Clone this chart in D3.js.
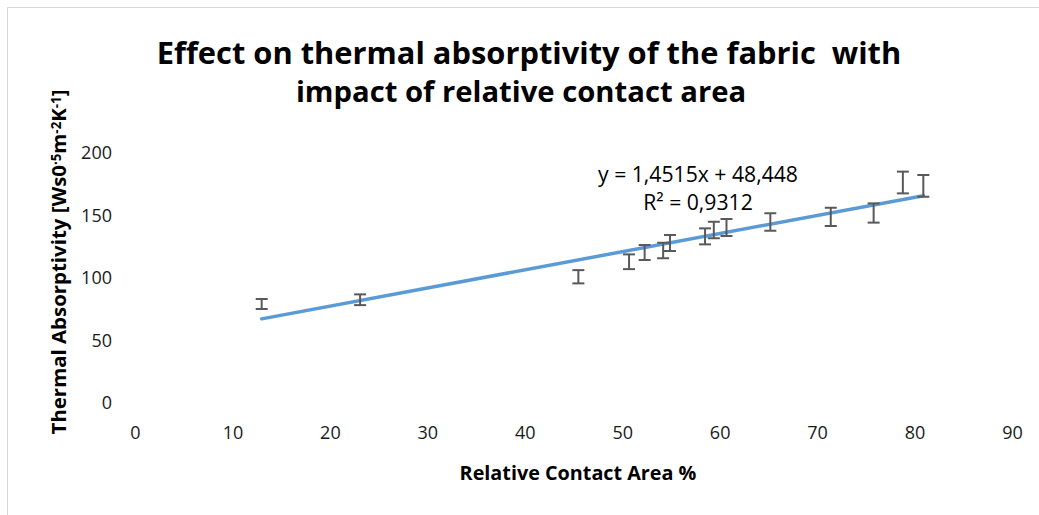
<!doctype html>
<html>
    <head>
        <script src="https://d3js.org/d3.v7.min.js"></script>
        <style>
            body,
            html {
                margin: 0;
                padding: 0;
                overflow: hidden;
                background: #fff;
            }
            text {
                font-family: "Open Sans", Lato, sans-serif;
            }
        </style>
    </head>
    <body>
        <script>
            // relative contact area (%)
            const contactArea = [13, 23.1, 45.5, 50.7, 52.3, 54.2, 54.9, 58.5, 59.4, 60.7, 65.2, 71.4, 75.8, 78.8, 80.9];
            // thermal absorptivity (mean)
            const absorptivity = [79.2, 82.6, 101, 113, 120.4, 122, 128, 133.3, 138.4, 140.4, 144.8, 148.9, 152, 176.4, 173.7];
            // +/- error
            const errors = [4, 4.3, 5.3, 5.9, 6, 6.2, 6.4, 6.4, 6.6, 6.8, 7, 7.3, 7.7, 8.7, 8.7];
            const xTicks = [0, 10, 20, 30, 40, 50, 60, 70, 80, 90];
            const yTicks = [0, 50, 100, 150, 200];
            const slope = 1.4515;
            const intercept = 48.448;
            const eqLabel = "y = 1,4515x + 48,448";
            const r2Label = "R² = 0,9312";

            const width = 1039;
            const height = 515;
            const svg = d3
                .create("svg")
                .attr("width", width)
                .attr("height", height)
                .attr("viewBox", [0, 0, width, height]);
            document.body.appendChild(svg.node());

            // shrink/grow font so the text spans roughly the wanted width
            function fit(sel, target) {
                const n = sel.node();
                const w = n.getComputedTextLength();
                const fs = parseFloat(sel.attr("font-size"));
                sel.attr("font-size", (fs * target) / w);
            }

            // chart frame
            svg.append("rect")
                .attr("x", 7.5)
                .attr("y", 7.5)
                .attr("width", width + 10)
                .attr("height", height + 10)
                .attr("fill", "#fff")
                .attr("stroke", "#d9d9d9");

            const x = d3.scaleLinear().domain([0, 90]).range([135, 1012]);
            const y = d3.scaleLinear().domain([0, 200]).range([403, 153]);

            // title
            const t1 = svg.append("text")
                .attr("x", 529).attr("y", 64)
                .attr("text-anchor", "middle")
                .attr("font-weight", "bold")
                .attr("font-size", 28)
                .attr("xml:space", "preserve")
                .text("Effect on thermal absorptivity of the fabric  with");
            fit(t1, 745);
            const t2 = svg.append("text")
                .attr("x", 521).attr("y", 102)
                .attr("text-anchor", "middle")
                .attr("font-weight", "bold")
                .attr("font-size", t1.attr("font-size"))
                .text("impact of relative contact area");
            fit(t2, 450);

            // axes (no lines, labels only)
            const xAxis = svg.append("g")
                .attr("transform", `translate(0,${y(0)})`)
                .call(d3.axisBottom(x).tickValues(xTicks).tickSize(0).tickPadding(23));
            const yAxis = svg.append("g")
                .attr("transform", `translate(${x(0)},0)`)
                .call(d3.axisLeft(y).tickValues(yTicks).tickSize(0).tickPadding(23));
            [xAxis, yAxis].forEach((g) => {
                g.select(".domain").remove();
                g.selectAll("text")
                    .attr("font-size", 18)
                    .attr("font-family", "'Open Sans', sans-serif")
                    .attr("fill", "#1a1a1a");
            });

            // axis titles
            const xt = svg.append("text")
                .attr("x", 578)
                .attr("y", 480)
                .attr("text-anchor", "middle")
                .attr("font-weight", "bold")
                .attr("font-size", 17)
                .text("Relative Contact Area %");
            fit(xt, 237);

            const yt = svg.append("text")
                .attr("transform", `translate(66,262) rotate(-90)`)
                .attr("text-anchor", "middle")
                .attr("font-weight", "bold")
                .attr("font-size", 18);
            yt.append("tspan").text("Thermal Absorptivity [Ws0");
            yt.append("tspan").attr("dy", "-0.4em").attr("font-size", "0.65em").text("·5");
            yt.append("tspan").attr("dy", "0.26em").text("m");
            yt.append("tspan").attr("dy", "-0.4em").attr("font-size", "0.65em").text("-2");
            yt.append("tspan").attr("dy", "0.26em").text("K");
            yt.append("tspan").attr("dy", "-0.4em").attr("font-size", "0.65em").text("-1");
            yt.append("tspan").attr("dy", "0.26em").text("]");
            fit(yt, 345);

            // linear trendline
            const [x0, x1] = d3.extent(contactArea);
            svg.append("line")
                .attr("x1", x(x0))
                .attr("y1", y(slope * x0 + intercept))
                .attr("x2", x(x1))
                .attr("y2", y(slope * x1 + intercept))
                .attr("stroke", "#5b9bd5")
                .attr("stroke-width", 3.5)
                .attr("stroke-linecap", "round");

            // error bars
            const bars = svg.append("g")
                .attr("stroke", "#595959")
                .attr("stroke-width", 2)
                .selectAll("g")
                .data(contactArea.map((d, i) => ({ x: d, y: absorptivity[i], e: errors[i] })))
                .join("g");
            bars.append("line")
                .attr("x1", (d) => x(d.x))
                .attr("x2", (d) => x(d.x))
                .attr("y1", (d) => y(d.y - d.e))
                .attr("y2", (d) => y(d.y + d.e));
            bars.append("line")
                .attr("x1", (d) => x(d.x) - 6)
                .attr("x2", (d) => x(d.x) + 6)
                .attr("y1", (d) => y(d.y - d.e))
                .attr("y2", (d) => y(d.y - d.e));
            bars.append("line")
                .attr("x1", (d) => x(d.x) - 6)
                .attr("x2", (d) => x(d.x) + 6)
                .attr("y1", (d) => y(d.y + d.e))
                .attr("y2", (d) => y(d.y + d.e));

            // trendline equation
            const eq = svg.append("text")
                .attr("x", 698)
                .attr("y", 182)
                .attr("text-anchor", "middle")
                .attr("font-size", 18)
                .text(eqLabel);
            fit(eq, 200);
            svg.append("text")
                .attr("x", 698)
                .attr("y", 210)
                .attr("text-anchor", "middle")
                .attr("font-size", eq.attr("font-size"))
                .text(r2Label);
        </script>
    </body>
</html>
